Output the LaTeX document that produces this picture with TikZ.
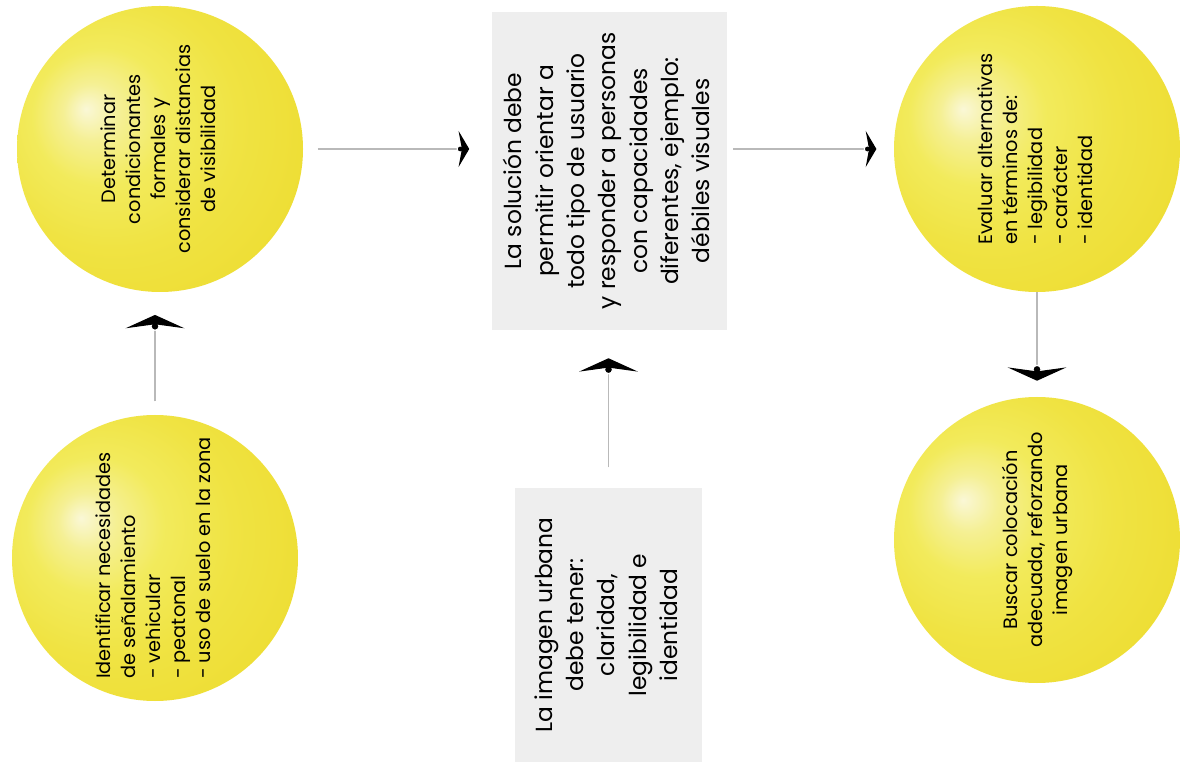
\documentclass[tikz,border=0pt]{standalone}
\usepackage{fontspec}
\setmainfont{Poppins}
\usepackage{graphicx}
\usepackage{tikz}
\usetikzlibrary{arrows.meta}

\pgfdeclareradialshading{yellowball}{\pgfpoint{-13bp}{7bp}}{%
  rgb(0bp)=(0.98,0.97,0.84);
  rgb(5bp)=(0.96,0.94,0.58);
  rgb(12bp)=(0.95,0.92,0.36);
  rgb(22bp)=(0.94,0.89,0.26);
  rgb(38bp)=(0.93,0.86,0.18);
  rgb(60bp)=(0.93,0.86,0.18)}

\newcommand{\uptext}[2][c]{\rotatebox{90}{\setlength{\tabcolsep}{0pt}\begin{tabular}{#1}#2\end{tabular}}}

\begin{document}
\begin{tikzpicture}[x=0.75pt,y=-0.75pt,
  ball/.style={circle,minimum size=214.5pt,inner sep=0pt,shading=yellowball,
    font=\fontsize{14.5}{18.75}\selectfont},
  note/.style={rectangle,fill=gray!13,inner sep=0pt,
    font=\fontsize{17.5}{23.5}\selectfont},
  link/.style={draw=gray!55,line width=0.9pt},
  htip/.style={-{Circle[color=white,fill=black,length=5.5pt,line width=0.8pt,sep=-4pt]Stealth[color=black,length=8pt,width=27pt,inset=2.5pt]}},
  vtip/.style={-{Circle[color=white,fill=black,length=7pt,line width=0.9pt,sep=-5pt]Stealth[color=black,length=10pt,width=44pt,inset=3pt]}}]
\useasboundingbox (0,0) rectangle (1185,762);
\fill[white] (0,0) rectangle (1185,762);

% left column
\node[ball] (c1) at (160,149) {\uptext{Determinar\\condicionantes\\formales y\\considerar distancias\\de visibilidad}};
\node[ball] (c2) at (155,558) {\uptext[l]{Identificar necesidades\\de señalamiento\\- vehicular\\- peatonal\\- uso de suelo en la zona}};

% middle column
\node[note,minimum width=176pt,minimum height=238.5pt] (b1) at (609.5,171)
  {\uptext{La solución debe\\permitir orientar a\\todo tipo de usuario\\y responder a personas\\con capacidades\\diferentes, ejemplo:\\débiles visuales}};
\node[note,minimum width=140pt,minimum height=206pt] (b2) at (608.5,625)
  {\uptext{La imagen urbana\\debe tener:\\claridad,\\legibilidad e\\identidad}};

% right column
\node[ball] (c3) at (1037,149) {\uptext[l]{Evaluar alternativas\\en términos de:\\- legibilidad\\- carácter\\- identidad}};
\node[ball] (c4) at (1037,540) {\uptext{Buscar colocación\\adecuada, reforzando\\imagen urbana}};

% connectors
\draw[link,vtip,shorten <=10pt,shorten >=17pt] (c2.north) -- (c2.north |- c1.south);
\draw[link,htip,shorten <=11pt,shorten >=17pt] (c1.east) -- (c1.east -| b1.west);
\draw[link,vtip,shorten <=15pt,shorten >=21pt] (b2.north) -- (b2.north |- b1.south);
\draw[link,htip,shorten <=4.5pt,shorten >=13pt] (b1.east |- c3.west) -- (c3.west);
\draw[link,vtip,shorten >=12pt] (c3.south) -- (c4.north);
\end{tikzpicture}
\end{document}
